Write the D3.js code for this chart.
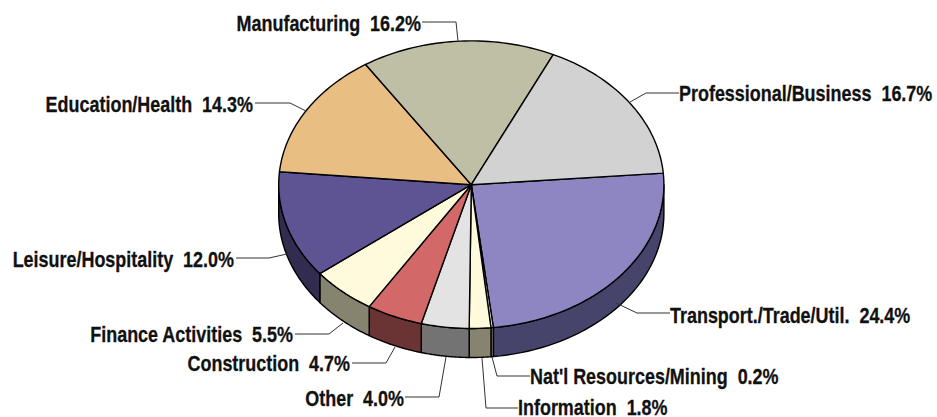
<!DOCTYPE html>
<html><head><meta charset="utf-8">
<script src="https://cdn.jsdelivr.net/npm/d3@7"></script>
<style>html,body{margin:0;background:#fff}svg{display:block}
text{font-family:"Liberation Sans",Arial,sans-serif;font-weight:bold;font-size:19px;fill:#111;stroke:#111;stroke-width:.25px;white-space:pre}</style>
</head><body><svg id="c" width="937" height="417"></svg>
<script>
const categories=["Transport./Trade/Util.","Nat'l Resources/Mining","Information","Other","Construction","Finance Activities","Leisure/Hospitality","Education/Health","Manufacturing","Professional/Business"];
const shares=[24.4,0.2,1.8,4.0,4.7,5.5,12.0,14.3,16.2,16.7];
const topColors=["#8d86c2","#fffadc","#fffadc","#e3e3e3","#d26868","#fffadc","#5f5493","#e8be83","#bfbfa6","#d2d2d2"];
const sideColors=["#46446a","#86836f","#86836f","#737373","#6b3434","#86836f","#312c50","#74603f","#5f5f53","#696969"];
// label layout: text anchor [x, baseline, anchor], then leader polyline
const labelPos=[[670,322,"start"],[530,383,"start"],[518,414,"start"],[404,405.5,"end"],[350,370,"end"],[293,341,"end"],[234,266,"end"],[253,111,"end"],[421,30,"end"],[679,100,"start"]];
const leaders=[[[670,313],[637,313],[616,303]],[[530,376],[497,376],[492,357]],[[518,408],[486,408],[482,358]],[[405,397],[439,397],[446,357]],[[352,363],[386,363],[395,347]],[[295,334],[329,334],[343,323]],[[236,258],[269,258],[287,254]],[[255,103],[290,103],[306,111]],[[422,22],[456,22],[458,41]],[[679,93],[646,93],[630,102]]];

const cx=471.3,cy=184.7,rx=192.6,ry=143.8,depth=29,startDeg=85.4,textSquashX=0.945,textStretchY=1.12;
const svg=d3.select("#c");
const pie=d3.pie().sort(null).value(d=>d).startAngle(startDeg*Math.PI/180).endAngle((startDeg+360)*Math.PI/180);
const arcs=pie(shares);
const X=t=>cx+rx*Math.sin(t),Y=t=>cy-ry*Math.cos(t);
const line=d3.line();
const g=svg.append("g");
arcs.forEach((a,i)=>{
  const lo=Math.max(a.startAngle,Math.PI/2),hi=Math.min(a.endAngle,Math.PI*1.5);
  if(hi<=lo)return;
  const ts=d3.range(0,41).map(k=>lo+(hi-lo)*k/40);
  const pts=ts.map(t=>[X(t),Y(t)]).concat(ts.slice().reverse().map(t=>[X(t),Y(t)+depth]));
  g.append("path").attr("d",line(pts)+"Z").attr("fill",sideColors[i]).attr("stroke","#000").attr("stroke-width",1.4).attr("stroke-linejoin","round");
});
arcs.forEach((a,i)=>{
  const n=Math.max(4,Math.ceil((a.endAngle-a.startAngle)*40));
  const pts=[[cx,cy]].concat(d3.range(0,n+1).map(k=>{const t=a.startAngle+(a.endAngle-a.startAngle)*k/n;return[X(t),Y(t)];}));
  g.append("path").attr("d",line(pts)+"Z").attr("fill",topColors[i]).attr("stroke","#000").attr("stroke-width",1.4).attr("stroke-linejoin","round");
});
svg.append("g").selectAll("path").data(leaders).join("path").attr("d",d=>line(d)).attr("fill","none").attr("stroke","#333").attr("stroke-width",1);
svg.append("g").selectAll("text").data(categories).join("text")
  .attr("transform",(d,i)=>`translate(${labelPos[i][0]},${labelPos[i][1]+0.5}) scale(${textSquashX},${textStretchY})`).attr("text-anchor",(d,i)=>labelPos[i][2])
  .text((d,i)=>d+"  "+shares[i].toFixed(1)+"%");
</script></body></html>
